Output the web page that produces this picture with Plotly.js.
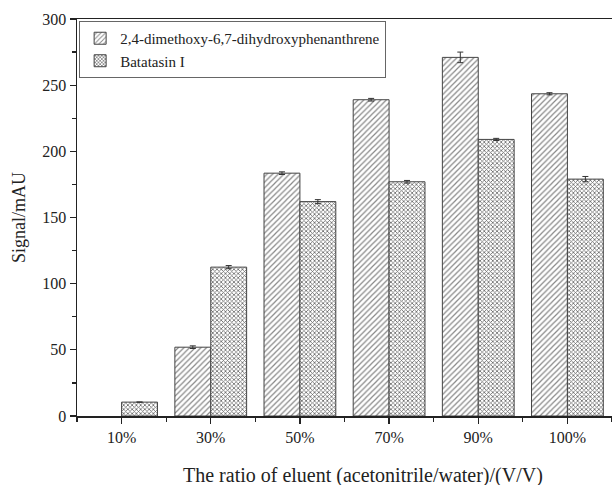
<!DOCTYPE html>
<html>
<head>
<meta charset="utf-8">
<script src="https://cdn.plot.ly/plotly-3.0.1.min.js"></script>
<style>html,body{margin:0;padding:0;background:#fff;}#chart{width:612px;height:485px;}</style>
</head>
<body>
<div id="chart"></div>
<script>
const categories = ["10%", "30%", "50%", "70%", "90%", "100%"];
const seriesNames = ["2,4-dimethoxy-6,7-dihydroxyphenanthrene", "Batatasin I"];
const phenValues = [null, 52, 183.5, 239, 271, 243.5];
const phenErrors = [0, 1, 1, 1, 4, 0.8];
const batValues = [10.5, 112.5, 162, 177, 209, 179];
const batErrors = [0, 1.2, 1.5, 1, 0.8, 2];
const yTicks = [0, 50, 100, 150, 200, 250, 300];
const xTitle = "The ratio of eluent (acetonitrile/water)/(V/V)";
const yTitle = "Signal/mAU";

const xPos = categories.map((c, i) => i);
const serif = "'Liberation Serif', 'Times New Roman', serif";

const traces = [
  {
    type: "bar", name: seriesNames[0], x: xPos, y: phenValues,
    error_y: {type: "data", array: phenErrors, visible: true, color: "#333", thickness: 1, width: 3},
    marker: {color: "#ffffff", line: {color: "#444", width: 1},
      pattern: {shape: "/", fgcolor: "#888", bgcolor: "#fff", size: 4, solidity: 0.3}}
  },
  {
    type: "bar", name: seriesNames[1], x: xPos, y: batValues,
    error_y: {type: "data", array: batErrors, visible: true, color: "#333", thickness: 1, width: 3},
    marker: {color: "#ffffff", line: {color: "#444", width: 1},
      pattern: {shape: "x", fgcolor: "#666", bgcolor: "#fff", size: 3, solidity: 0.45}}
  }
];

const layout = {
  width: 612, height: 485,
  margin: {l: 77, r: 0, t: 19, b: 69},
  paper_bgcolor: "#fff", plot_bgcolor: "#fff",
  barmode: "group", bargap: 0.195, bargroupgap: 0,
  font: {family: serif, color: "#222", size: 15},
  showlegend: true,
  legend: {x: 0.004, y: 0.995, xanchor: "left", yanchor: "top",
    bgcolor: "#fff", bordercolor: "#666", borderwidth: 1,
    font: {family: serif, size: 15, color: "#222"}, tracegroupgap: 0},
  xaxis: {
    range: [-0.5, 5.5], tickvals: xPos, ticktext: categories,
    showline: true, linecolor: "#222", linewidth: 1.5, mirror: true,
    ticks: "outside", ticklen: 6, tickwidth: 1.2, tickcolor: "#222",
    minor: {dtick: 0.5, tick0: 0.5, ticks: "outside", ticklen: 4, tickcolor: "#222", showgrid: false},
    showgrid: false, zeroline: false,
    tickfont: {family: serif, size: 16, color: "#222"}
  },
  yaxis: {
    range: [0, 300], tickvals: yTicks,
    showline: true, linecolor: "#222", linewidth: 1.5,
    ticks: "outside", ticklen: 6, tickwidth: 1.2, tickcolor: "#222",
    minor: {dtick: 25, ticks: "outside", ticklen: 4, tickcolor: "#222", showgrid: false},
    showgrid: false, zeroline: false,
    tickfont: {family: serif, size: 16, color: "#222"},
    title: {text: yTitle, font: {family: serif, size: 18, color: "#222"}, standoff: 12}
  },
  annotations: [{
    text: xTitle, xref: "paper", yref: "paper", x: 0.535, y: -0.149,
    xanchor: "center", yanchor: "middle", showarrow: false,
    font: {family: serif, size: 20, color: "#222"}
  }]
};

Plotly.newPlot("chart", traces, layout, {displayModeBar: false, staticPlot: true});
</script>
</body>
</html>
